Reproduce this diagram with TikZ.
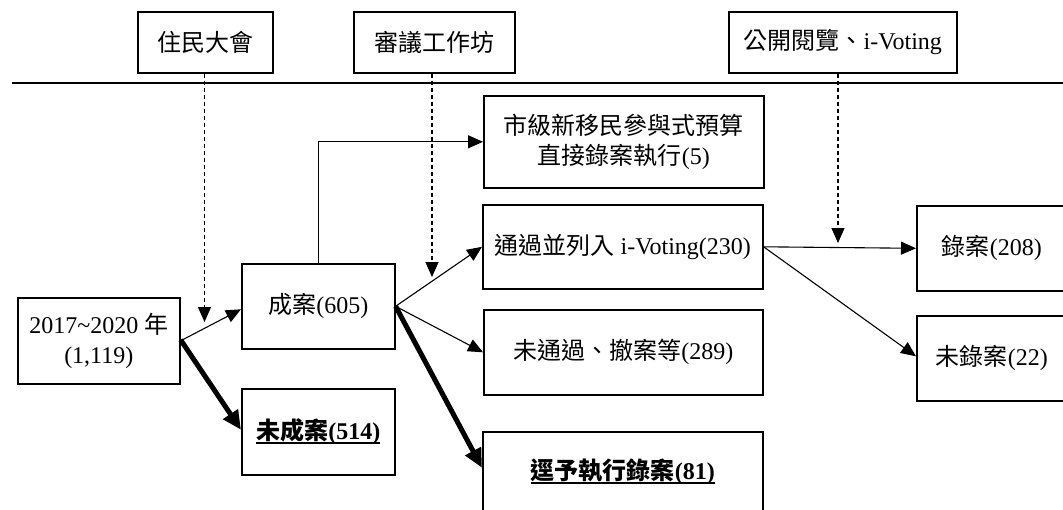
\documentclass[tikz,border=0pt]{standalone}
\usepackage{fontspec}
\setmainfont{Liberation Serif}
\newfontfamily\cjk{Noto Sans CJK TC}
\newcommand{\C}[1]{{\cjk #1}}
\newsavebox{\ulbox}
\newcommand{\ULbold}[1]{\leavevmode\sbox{\ulbox}{#1}\rlap{\rule[-4pt]{\wd\ulbox}{1.6pt}}\usebox{\ulbox}}
\usetikzlibrary{arrows.meta,calc}
\begin{document}
\begin{tikzpicture}[x=1pt,y=-1pt,
  box/.style={draw, line width=1.6pt, inner sep=0pt, anchor=north west, align=center,
    font=\fontsize{24}{30}\selectfont},
  conn/.style={line width=1.1pt, -{Triangle[length=15pt,width=13pt]}},
  thick conn/.style={line width=5pt, -{Triangle[length=19pt,width=17pt]}},
  dash conn/.style={line width=1.1pt, dash pattern=on 4pt off 3pt, -{Triangle[length=15pt,width=13pt]}}]
\useasboundingbox (0,0) rectangle (1063,509);
\clip (0,0) rectangle (1063,509);
% top boxes
\node[box, minimum width=135, minimum height=61] (t1) at (137,11) {\C{住民大會}};
\node[box, minimum width=161, minimum height=61] (t2) at (353,11) {\C{審議工作坊}};
\node[box, minimum width=228, minimum height=61] (t3) at (728,11) {\C{公開閱覽、}i-Voting};
\coordinate (hl) at (12,83);
\coordinate (hr) at (1063,83);
\draw[line width=1.1pt] (hl) -- (hr);
% flow boxes
\node[box, minimum width=162, minimum height=86] (yr) at (17,297) {2017\textasciitilde2020 \C{年}\\(1,119)};
\node[box, minimum width=153, minimum height=85] (ca) at (241,263) {\C{成案}(605)};
\node[box, minimum width=153, minimum height=86] (wc) at (241,388) {\ULbold{\bfseries\C{未成案}(514)}};
\node[box, minimum width=280, minimum height=92] (sj) at (483,95) {\C{市級新移民參與式預算}\\\C{直接錄案執行}(5)};
\node[box, minimum width=280, minimum height=84] (tg) at (482,204) {\C{通過並列入} i-Voting(230)};
\node[box, minimum width=279, minimum height=85] (wt) at (483,309) {\C{未通過、撤案等}(289)};
\node[box, minimum width=280, minimum height=80] (jy) at (482,431) {\ULbold{\bfseries\C{逕予執行錄案}(81)}};
\node[box, minimum width=150, minimum height=85] (la) at (916,205) {\C{錄案}(208)};
\node[box, minimum width=150, minimum height=85] (wl) at (916,315) {\C{未錄案}(22)};
% dashed arrows
\coordinate (d1) at (204.5,322);
\coordinate (d2) at (432,277);
\coordinate (d3) at (838,243);
\draw[dash conn] (t1.south -| d1) -- (d1);
\draw[dash conn] (t2.south -| d2) -- (d2);
\draw[dash conn] (t3.south -| d3) -- (d3);
% connectors
\draw[conn] (yr.east) -- ($(ca.west)+(0,3)$);
\draw[thick conn] ($(yr.east)+(0,-1)$) -- ($(wc.west)+(0,-2)$);
\draw[conn] (ca.north) |- (sj.west);
\draw[conn] (ca.east) -- (tg.west);
\draw[conn] (ca.east) -- (wt.west);
\draw[thick conn] (ca.east) -- ($(jy.west)+(0,-4)$);
\draw[conn] (tg.east) -- (la.west);
\draw[conn] (tg.east) -- ($(wl.west)+(0,-2)$);
\end{tikzpicture}
\end{document}
